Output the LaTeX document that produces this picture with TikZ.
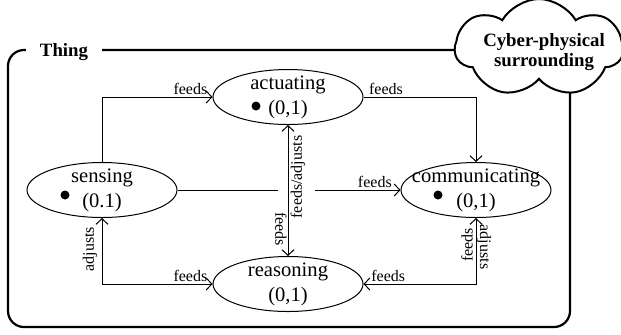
\documentclass[tikz,border=0pt]{standalone}
\usepackage{fontspec}
\setmainfont{Liberation Serif}
\usetikzlibrary{arrows.meta,positioning,shapes.geometric,shapes.symbols}

\begin{document}
\begin{tikzpicture}[
  x=0.5pt, y=-0.5pt,
  st/.style={draw, ellipse, line width=0.5pt, minimum width=75pt,
             minimum height=27.5pt, inner sep=0pt},
  sttext/.style={align=center, inner sep=0pt,
                 font=\fontsize{10.3}{12.5}\selectfont},
  lbl/.style={font=\fontsize{8}{9.6}\selectfont, inner sep=1pt},
  dot/.style={circle, fill, inner sep=0pt, minimum size=4.5pt},
  frame/.style={draw, line width=1.1pt, rounded corners=8pt},
  thing/.style={fill=white, inner xsep=7pt, inner ysep=1pt,
                font=\bfseries\fontsize{9.4}{11}\selectfont},
  cloudbox/.style={draw, cloud, cloud puffs=7, cloud puff arc=120, aspect=1.8,
                   line width=1pt, fill=white, minimum width=84pt,
                   minimum height=49pt, inner sep=0pt},
  arr/.style={-{Straight Barb[length=2.8pt,width=6pt]}, line width=0.5pt},
  arr2/.style={{Straight Barb[length=2.8pt,width=6pt]}-{Straight Barb[length=2.8pt,width=6pt]},
               line width=0.5pt},
]
  \useasboundingbox (0,0) rectangle (621,334);

  % the thing and its surrounding
  \draw[frame] (8,50) rectangle (570,327);
  \node[thing] (thing) at (64,52) {Thing};
  \node[cloudbox, shape border rotate=10] (cps) at (539,48) {};
  \node[align=center, inner sep=0pt, font=\bfseries\fontsize{9.4}{10}\selectfont]
    (cpstxt) at (544,52) {Cyber-physical\\surrounding};

  % the four capabilities
  \node[st] (act) at (288,97) {};
  \node[st] (sens) at (102,190) {};
  \node[st] (comm) at (476,190) {};
  \node[st] (reas) at (288,284) {};
  \node[sttext] (acttxt) at (act) {actuating\\(0,1)};
  \node[sttext] (senstxt) at (sens) {sensing\\(0.1)};
  \node[sttext] (commtxt) at (comm) {communicating\\(0,1)};
  \node[sttext] (reastxt) at (reas) {reasoning\\(0,1)};
  \node[dot] (actdot) at (256,106) {};
  \node[dot] (sensdot) at (65,195) {};
  \node[dot] (commdot) at (438,195) {};

  % flows
  \draw[arr] (sens.north) |- node[lbl, pos=0.9, above] (f1) {feeds} (act.west);
  \draw[arr] (act.east) -| node[lbl, pos=0.1, above] (f2) {feeds} (comm.north);
  \coordinate (gapl) at (278,190);
  \coordinate (gapr) at (315,190);
  \draw[line width=0.5pt] (sens.east) -- (gapl);
  \draw[arr] (gapr) -- node[lbl, pos=0.7, above] (f3) {feeds} (comm.west);
  \draw[arr2] (act.south) -- (reas.north);
  \node[lbl, rotate=90] (fa1) at (298,177) {feeds/adjusts};
  \node[lbl, rotate=-90] (f4) at (281,229) {feeds};
  \draw[arr2] (sens.south) |- node[lbl, pos=0.9, above] (f5) {feeds} (reas.west);
  \node[lbl, rotate=90] (a1) at (90,249) {adjusts};
  \draw[arr2] (comm.south) |- node[lbl, pos=0.89, above] (f6) {feeds} (reas.east);
  \node[lbl, rotate=90] (f7) at (467,245) {feeds};
  \node[lbl, rotate=-90] (a2) at (484,247) {adjusts};
\end{tikzpicture}
\end{document}
